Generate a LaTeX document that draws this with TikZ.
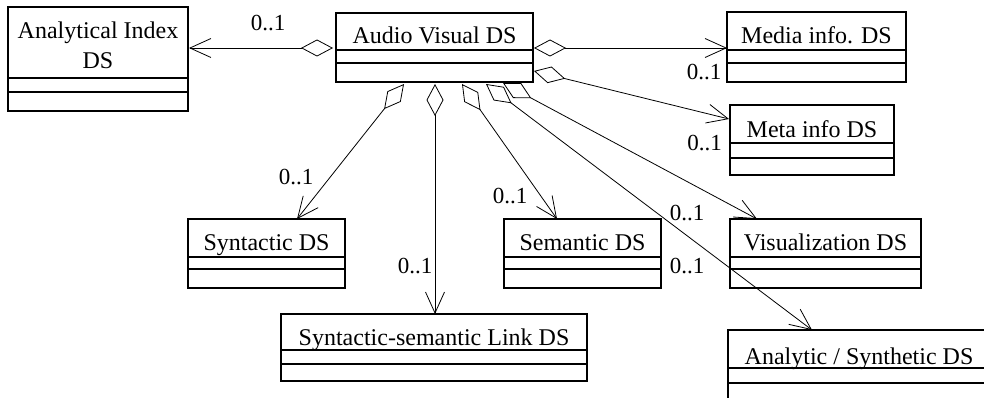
\documentclass[tikz,border=0pt]{standalone}
\usepackage{fontspec}
\setmainfont{Liberation Serif}
\usetikzlibrary{arrows.meta,calc}
\tikzset{
  clsbox/.style={draw, line width=1.2pt, inner sep=0pt, outer sep=0pt},
  sepline/.style={line width=1.2pt},
  clstext/.style={font=\fontsize{24}{30}\selectfont, inner sep=0pt, anchor=base, align=center},
  mult/.style={font=\fontsize{23}{28}\selectfont, inner sep=0pt, anchor=base},
  aggr/.style={line width=0.8pt, arrows={Diamond[open,length=32pt,width=17pt]-Straight Barb[length=21pt,width=19pt]}},
}
% #1 name, #2 left, #3 top, #4 right, #5 sep1, #6 sep2, #7 bottom, #8 text baseline (last line), #9 text
\newcommand{\umlcls}[9]{%
  \node[clsbox, minimum width={(#4-#2)*1pt}, minimum height={(#7-#3)*1pt}] (#1) at ({(#2+#4)/2},{(#3+#7)/2}) {};
  \draw[sepline] (#1.west |- 0,#5) -- (#1.east |- 0,#5);
  \draw[sepline] (#1.west |- 0,#6) -- (#1.east |- 0,#6);
  \node[clstext] (#1-t) at ({(#2+#4)/2},#8) {#9};
}
\begin{document}
\begin{tikzpicture}[x=1pt,y=-1pt]
\useasboundingbox[fill=white] (0,0) rectangle (984,398);
\clip (0,0) rectangle (984,398);

\umlcls{ai}{8}{7}{188}{78}{92}{111}{69}{Analytical Index\\DS}
\umlcls{av}{336}{13}{533}{50}{63}{82}{44}{Audio Visual DS}
\umlcls{media}{727}{12}{906}{50}{63}{82}{44}{Media info. DS}
\umlcls{meta}{730}{105}{894}{143}{158}{175}{138}{Meta info DS}
\umlcls{syn}{188}{219}{345}{257}{269}{288}{250}{Syntactic DS}
\umlcls{sem}{504}{219}{661}{257}{269}{288}{250}{Semantic DS}
\umlcls{vis}{730}{219}{921}{257}{269}{288}{250}{Visualization DS}
\umlcls{link}{281}{314}{587}{350}{364}{381}{345}{Syntactic-semantic Link DS}
\umlcls{ana}{728}{330}{990}{368}{383}{412}{364}{Analytic / Synthetic DS}

% start points on Audio Visual DS
\coordinate (sL) at ($(av.north west)+(-3,35)$);
\coordinate (sR1) at ($(av.north east)+(1,35)$);
\coordinate (sR2) at ($(av.north east)+(1,58)$);
\coordinate (sB1) at ($(av.south west)+(68,2)$);
\coordinate (sB2) at ($(av.south west)+(99,2)$);
\coordinate (sB3) at ($(av.south west)+(126,2)$);
\coordinate (sB4) at ($(av.south west)+(150,2)$);
\coordinate (sB5) at ($(av.south west)+(167,1)$);
% end points
\coordinate (eai) at ($(ai.north east)+(1,41)$);
\coordinate (emedia) at ($(media.north west)+(0,36)$);
\coordinate (emeta) at ($(meta.north west)+(-1,14)$);
\coordinate (esyn) at ($(syn.north west)+(109,0)$);
\coordinate (elink) at ($(link.north west)+(154,0)$);
\coordinate (esem) at ($(sem.north west)+(53,0)$);
\coordinate (evis) at ($(vis.north west)+(27,0)$);
\coordinate (eana) at ($(ana.north west)+(84,0)$);

\draw[aggr] (sL) -- (eai);
\draw[aggr] (sR1) -- (emedia);
\draw[aggr] (sR2) -- (emeta);
\draw[aggr] (sB1) -- (esyn);
\draw[aggr] (sB2) -- (elink);
\draw[aggr] (sB3) -- (esem);
\draw[aggr] (sB4) -- (eana);
\draw[aggr] (sB5) -- (evis);

\node[mult] (m1) at (268,31) {0..1};
\node[mult] (m2) at (704,80) {0..1};
\node[mult] (m3) at (704.5,151) {0..1};
\node[mult] (m4) at (296,184) {0..1};
\node[mult] (m5) at (415,273) {0..1};
\node[mult] (m6) at (510,203) {0..1};
\node[mult] (m7) at (687,220) {0..1};
\node[mult] (m8) at (687,273) {0..1};
\end{tikzpicture}
\end{document}
